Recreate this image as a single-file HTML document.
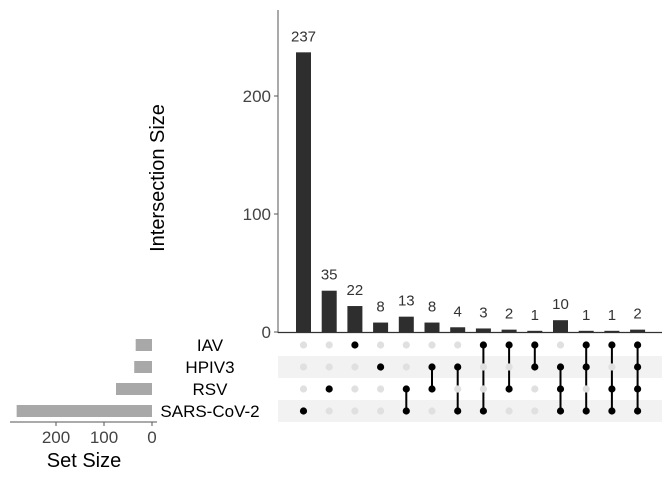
<!DOCTYPE html>
<html><head><meta charset="utf-8"><style>
body{margin:0;background:#fff}
svg{font-family:"Liberation Sans",sans-serif}
</style></head><body>
<svg id="c" width="672" height="480" viewBox="0 0 672 480"></svg>
<script>
const counts=[237,35,22,8,13,8,4,3,2,1,10,1,1,2];
const sets=["IAV","HPIV3","RSV","SARS-CoV-2"];
const setSizes=[34,37,75,282];
const members=[[3],[2],[0],[1],[2,3],[1,2],[1,3],[0,3],[0,2],[0,1],[1,2,3],[0,1,3],[0,2,3],[0,1,2,3]];
const yTicks=[0,100,200];
const sTicks=[0,100,200];

const NS="http://www.w3.org/2000/svg",svg=document.getElementById('c');
function el(t,a,p){const e=document.createElementNS(NS,t);for(const k in a)e.setAttribute(k,a[k]);(p||svg).appendChild(e);return e;}
const y=v=>332-v*1.18, xc=i=>303.5+i*25.7, ry=j=>345+j*22, sx=v=>152-v*0.48;

[1,3].forEach(j=>{const r=el('rect',{x:278,y:ry(j)-11,width:384,height:22,fill:'#f2f2f2'});
});
let a=el('line',{x1:278,y1:10,x2:278,y2:333,stroke:'#555','stroke-width':1});

a=el('line',{x1:278,y1:332.5,x2:662,y2:332.5,stroke:'#333','stroke-width':1.2});

yTicks.forEach(v=>{el('line',{x1:274,x2:278,y1:y(v),y2:y(v),stroke:'#555'});
const t=el('text',{x:271,y:y(v)+6,'text-anchor':'end','font-size':17,fill:'#444'});t.textContent=v;
});
let tt=el('text',{x:0,y:0,'text-anchor':'middle','font-size':20,fill:'#000',transform:'translate(164,178) rotate(-90)'});
tt.textContent='Intersection Size';
counts.forEach((c,i)=>{const b=el('rect',{x:xc(i)-7.5,y:y(c),width:15,height:332-y(c),fill:'#2e2e2e'});

const t=el('text',{x:xc(i),y:y(c)-11,'text-anchor':'middle','font-size':15,fill:'#333'});t.textContent=c;
});
members.forEach((m,i)=>{
 if(m.length>1){const l=el('line',{x1:xc(i),x2:xc(i),y1:ry(Math.min(...m)),y2:ry(Math.max(...m)),stroke:'#000','stroke-width':2});
 }
 sets.forEach((s,j)=>{const on=m.includes(j);const d=el('circle',{cx:xc(i),cy:ry(j),r:3.6,fill:on?'#000':'#e0e0e0'});
 });
});
sets.forEach((s,j)=>{const t=el('text',{x:210,y:ry(j)+6,'text-anchor':'middle','font-size':17,fill:'#000'});t.textContent=s;

const b=el('rect',{x:sx(setSizes[j]),y:ry(j)-6,width:152-sx(setSizes[j]),height:12,fill:'#a8a8a8'});
});
a=el('line',{x1:10,x2:157,y1:422,y2:422,stroke:'#555'});

sTicks.forEach(v=>{el('line',{x1:sx(v),x2:sx(v),y1:422,y2:426,stroke:'#555'});
const t=el('text',{x:sx(v),y:443,'text-anchor':'middle','font-size':17,fill:'#444'});t.textContent=v;
});
tt=el('text',{x:84,y:467,'text-anchor':'middle','font-size':20,fill:'#000'});tt.textContent='Set Size';

</script>
</body></html>
